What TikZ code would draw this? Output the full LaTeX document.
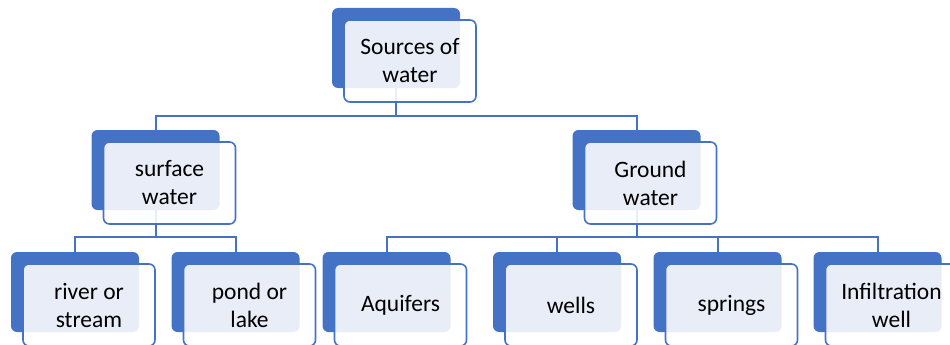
\documentclass[tikz,border=0pt]{standalone}
\usepackage{fontspec}
\setmainfont{Carlito}
\usetikzlibrary{calc}
\definecolor{accent}{HTML}{4472C4}
\begin{document}
\begin{tikzpicture}[x=1pt,y=-1pt,
  backbox/.style={rectangle, rounded corners=6pt, fill=accent, minimum width=128pt, minimum height=80pt, inner sep=0pt},
  frontbox/.style={rectangle, rounded corners=6pt, draw=accent, line width=1.6pt, fill=white, fill opacity=0.88, text opacity=1, minimum width=132pt, minimum height=82pt, inner sep=0pt, align=center, font=\fontsize{23.5}{28}\selectfont},
  link/.style={draw=accent, line width=2pt}]
\useasboundingbox (0,0) rectangle (950,345);
\clip (0,0) rectangle (950,345);
% back boxes
\node[backbox] (b0) at (396,48) {};
\node[backbox] (b1) at (155.5,170) {};
\node[backbox] (b2) at (636.5,170) {};
\node[backbox] (c1) at (75,292) {};
\node[backbox] (c2) at (235.5,292) {};
\node[backbox] (c3) at (386.5,292) {};
\node[backbox] (c4) at (557,292) {};
\node[backbox] (c5) at (717.5,292) {};
\node[backbox] (c6) at (877.5,292) {};
% elbow levels
\coordinate (e0) at (396,116);
\coordinate (e1) at (155.5,237);
\coordinate (e2) at (636.5,237);
% connectors
\draw[link] (b0.south) -- (e0);
\draw[link] (b1.north) -- (b1.north |- e0) -- (b2.north |- e0) -- (b2.north);
\draw[link] (b1.south) -- (e1);
\draw[link] (c1.north) -- (c1.north |- e1) -- (c2.north |- e1) -- (c2.north);
\draw[link] (b2.south) -- (e2);
\draw[link] (c3.north) -- (c3.north |- e2) -- (c6.north |- e2) -- (c6.north);
\draw[link] (c4.north) -- (c4.north |- e2);
\draw[link] (c5.north) -- (c5.north |- e2);
% front boxes
\node[frontbox] (f0) at ($(b0)+(14,13)$) {Sources of\\water};
\node[frontbox] (f1) at ($(b1)+(14,13)$) {surface\\water};
\node[frontbox] (f2) at ($(b2)+(14,13)$) {Ground\\water};
\node[frontbox] (g1) at ($(c1)+(14,13)$) {river or\\stream};
\node[frontbox] (g2) at ($(c2)+(14,13)$) {pond or\\lake};
\node[frontbox] (g3) at ($(c3)+(14,13)$) {Aquifers};
\node[frontbox] (g4) at ($(c4)+(14,13)$) {wells};
\node[frontbox] (g5) at ($(c5)+(14,13)$) {springs};
\node[frontbox] (g6) at ($(c6)+(14,13)$) {Infiltration\\well};
\end{tikzpicture}
\end{document}
